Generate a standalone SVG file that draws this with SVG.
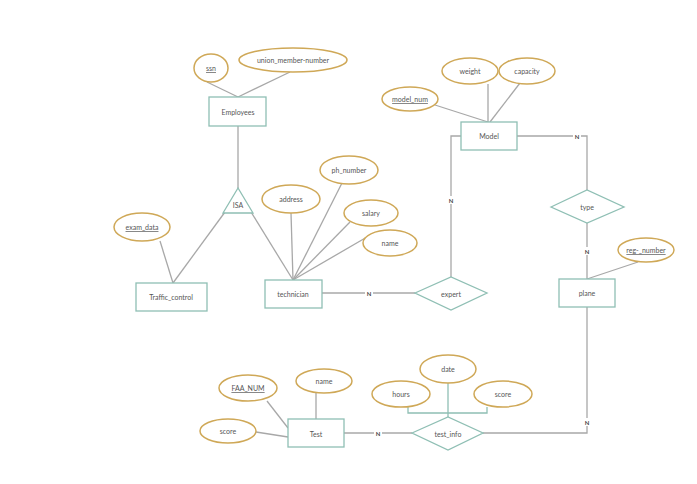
<svg xmlns="http://www.w3.org/2000/svg" width="697" height="484" viewBox="0 0 697 484">
<style>
.ent{fill:#ffffff;stroke:#8fbfb4;stroke-width:1.3}
.rel{fill:#ffffff;stroke:#8fbfb4;stroke-width:1.3}
.att{fill:#ffffff;stroke:#cfa857;stroke-width:1.5}
.ln{fill:none;stroke:#a8a8a8;stroke-width:1.3}
.lt{fill:none;stroke:#8fbfb4;stroke-width:1.3}
text{font-family:Lato,"Liberation Sans",sans-serif;font-size:7px;fill:#555555;text-anchor:middle;dominant-baseline:central}
.k{text-decoration:underline}
.n{font-size:6px;font-weight:bold;fill:#444444}
.nb{fill:#ffffff;stroke:none}
</style>
<rect width="697" height="484" fill="#ffffff"/>
<g id="connectors">
<line class="ln" x1="207" y1="82" x2="238" y2="97"/>
<line class="ln" x1="290" y1="72" x2="238" y2="97"/>
<line class="ln" x1="238" y1="126" x2="238" y2="188"/>
<line class="ln" x1="225" y1="212" x2="173" y2="283"/>
<line class="ln" x1="160" y1="241" x2="173" y2="283"/>
<line class="ln" x1="251" y1="212" x2="293" y2="280"/>
<line class="ln" x1="291" y1="213" x2="293" y2="280"/>
<line class="ln" x1="342" y1="183" x2="293" y2="280"/>
<line class="ln" x1="350" y1="222" x2="293" y2="280"/>
<line class="ln" x1="367" y1="237" x2="293" y2="280"/>
<line class="ln" x1="322" y1="293" x2="415" y2="293"/>
<polyline class="ln" points="451,277 451,136 461,136"/>
<line class="ln" x1="435" y1="105" x2="488" y2="122"/>
<line class="ln" x1="488" y1="84" x2="488" y2="122"/>
<line class="ln" x1="520" y1="83" x2="490" y2="122"/>
<polyline class="ln" points="517,136 587,136 587,190"/>
<line class="ln" x1="587" y1="223" x2="587" y2="279"/>
<line class="ln" x1="638" y1="262" x2="587" y2="279"/>
<polyline class="ln" points="587,307 587,433 483,433"/>
<line class="ln" x1="344" y1="433" x2="412" y2="433"/>
<line class="ln" x1="316" y1="393" x2="316" y2="419"/>
<line class="ln" x1="267" y1="401" x2="288" y2="428"/>
<line class="ln" x1="256" y1="432" x2="288" y2="437"/>
<line class="lt" x1="448" y1="383" x2="448" y2="417"/>
<polyline class="lt" points="408,407 408,413 487,413 487,407"/>
<rect class="nb" x="365" y="289" width="8" height="8"/>
<text class="n" x="369" y="293">N</text>
<rect class="nb" x="447" y="196" width="8" height="8"/>
<text class="n" x="451" y="200">N</text>
<rect class="nb" x="573" y="132" width="8" height="8"/>
<text class="n" x="577" y="136">N</text>
<rect class="nb" x="583" y="247" width="8" height="8"/>
<text class="n" x="587" y="251">N</text>
<rect class="nb" x="583" y="418" width="8" height="8"/>
<text class="n" x="587" y="422">N</text>
<rect class="nb" x="374" y="429" width="8" height="8"/>
<text class="n" x="378" y="433">N</text>
</g>
<g id="ssn"><ellipse class="att" cx="211" cy="68" rx="17" ry="14"/><text class="k" x="211" y="68">ssn</text></g>
<g id="union_member_number"><ellipse class="att" cx="293" cy="60" rx="54" ry="12"/><text x="293" y="60">union_member-number</text></g>
<g id="Employees"><rect class="ent" x="209" y="97" width="57" height="29"/><text x="238" y="112">Employees</text></g>
<g id="ISA"><polygon class="rel" points="238,188 223,213 253,213"/><text x="238" y="205">ISA</text></g>
<g id="exam_data"><ellipse class="att" cx="142" cy="227" rx="28" ry="14"/><text class="k" x="142" y="227">exam_data</text></g>
<g id="Traffic_control"><rect class="ent" x="136" y="283" width="71" height="28"/><text x="171" y="297">Traffic_control</text></g>
<g id="technician"><rect class="ent" x="265" y="280" width="57" height="28"/><text x="293" y="294">technician</text></g>
<g id="address"><ellipse class="att" cx="291" cy="199" rx="29" ry="14"/><text x="291" y="199">address</text></g>
<g id="ph_number"><ellipse class="att" cx="349" cy="170" rx="29" ry="14"/><text x="349" y="170">ph_number</text></g>
<g id="salary"><ellipse class="att" cx="371" cy="213" rx="27" ry="13"/><text x="371" y="213">salary</text></g>
<g id="name_tech"><ellipse class="att" cx="390" cy="243" rx="27" ry="13"/><text x="390" y="243">name</text></g>
<g id="expert"><polygon class="rel" points="415,293 451,277 487,293 451,310"/><text x="451" y="294">expert</text></g>
<g id="Model"><rect class="ent" x="461" y="122" width="56" height="28"/><text x="489" y="136">Model</text></g>
<g id="weight"><ellipse class="att" cx="470" cy="71" rx="28" ry="13"/><text x="470" y="71">weight</text></g>
<g id="capacity"><ellipse class="att" cx="527" cy="71" rx="28" ry="13"/><text x="527" y="71">capacity</text></g>
<g id="model_num"><ellipse class="att" cx="410" cy="99" rx="28" ry="12"/><text class="k" x="410" y="99">model_num</text></g>
<g id="type"><polygon class="rel" points="551,207 587,190 624,207 587,223"/><text x="587" y="207">type</text></g>
<g id="plane"><rect class="ent" x="559" y="279" width="56" height="28"/><text x="587" y="293">plane</text></g>
<g id="reg_number"><ellipse class="att" cx="646" cy="250" rx="28" ry="12"/><text class="k" x="646" y="250">reg-_number</text></g>
<g id="test_info"><polygon class="rel" points="412,433 448,417 483,433 448,450"/><text x="448" y="434">test_info</text></g>
<g id="date"><ellipse class="att" cx="448" cy="369" rx="28" ry="14"/><text x="448" y="369">date</text></g>
<g id="hours"><ellipse class="att" cx="401" cy="394" rx="29" ry="13"/><text x="401" y="394">hours</text></g>
<g id="score_ti"><ellipse class="att" cx="503" cy="394" rx="29" ry="13"/><text x="503" y="394">score</text></g>
<g id="Test"><rect class="ent" x="288" y="419" width="56" height="28"/><text x="316" y="434">Test</text></g>
<g id="name_test"><ellipse class="att" cx="324" cy="381" rx="28" ry="12"/><text x="324" y="381">name</text></g>
<g id="FAA_NUM"><ellipse class="att" cx="248" cy="388" rx="29" ry="13"/><text class="k" x="248" y="388">FAA_NUM</text></g>
<g id="score_test"><ellipse class="att" cx="228" cy="431" rx="28" ry="12"/><text x="228" y="431">score</text></g>
</svg>
